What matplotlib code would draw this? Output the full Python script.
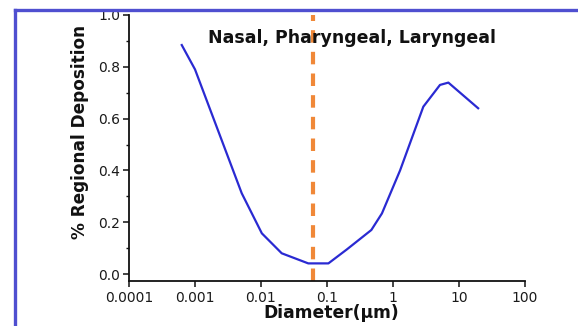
import matplotlib
matplotlib.use("Agg")
import matplotlib.pyplot as plt
from matplotlib.lines import Line2D
from matplotlib.ticker import FixedLocator, MultipleLocator, NullLocator, FixedFormatter

plt.rcParams['font.family'] = ['DejaVu Sans']

# Regional deposition curve (nasal, pharyngeal, laryngeal)
diameter_um = [0.00063, 0.001, 0.0051, 0.0103, 0.0206, 0.052, 0.105,
               0.2, 0.47, 0.68, 1.28, 2.88, 5.15, 6.9, 19.5]
deposition = [0.884, 0.79, 0.312, 0.157, 0.080, 0.041, 0.041,
              0.095, 0.17, 0.234, 0.40, 0.646, 0.73, 0.739, 0.64]

marker_diameter = 0.061
x_ticks = [0.0001, 0.001, 0.01, 0.1, 1, 10, 100]
x_tick_labels = ["0.0001", "0.001", "0.01", "0.1", "1", "10", "100"]
y_ticks = [0.0, 0.2, 0.4, 0.6, 0.8, 1.0]
y_tick_labels = ["0.0", "0.2", "0.4", "0.6", "0.8", "1.0"]

W, H = 578, 326
fig = plt.figure(figsize=(W / 100, H / 100), dpi=100)
fig.patch.set_facecolor("white")

ax = fig.add_axes([129 / W, 1 - 281 / H, (525 - 129) / W, (281 - 15) / H])
ax.set_facecolor("white")

ax.plot(diameter_um, deposition, color="#2a2ad2", lw=1.6, solid_joinstyle="round")
ax.axvline(marker_diameter, color="#f08838", lw=3.0, linestyle=(0, (3, 2.2)))

ax.set_xscale("log")
ax.set_xlim(0.0001, 100)
ax.set_ylim(-0.027, 1.0)

ax.xaxis.set_major_locator(FixedLocator(x_ticks))
ax.xaxis.set_major_formatter(FixedFormatter(x_tick_labels))
ax.xaxis.set_minor_locator(NullLocator())
ax.yaxis.set_major_locator(FixedLocator(y_ticks))
ax.yaxis.set_major_formatter(FixedFormatter(y_tick_labels))
ax.yaxis.set_minor_locator(MultipleLocator(0.1))

for s in ("top", "right"):
    ax.spines[s].set_visible(False)
for s in ("left", "bottom"):
    ax.spines[s].set_linewidth(1.3)
    ax.spines[s].set_color("#111111")

ax.tick_params(axis="both", which="major", direction="out", length=4, width=1.1,
               labelsize=10, colors="#111111", labelcolor="#1a1a1a")
ax.tick_params(axis="x", which="major", pad=3.5)
ax.tick_params(axis="y", which="major", pad=2.5)
ax.tick_params(axis="y", which="minor", direction="out", length=2.5, width=1.0,
               colors="#111111")

fig.text(351.5 / W, 1 - 38 / H, "Nasal, Pharyngeal, Laryngeal", ha="center",
         va="center", fontsize=12.5, fontweight="bold", color="#111111")
fig.text(80 / W, 1 - 132 / H, "% Regional Deposition", ha="center", va="center",
         rotation=90, fontsize=12.2, fontweight="bold", color="#111111")
fig.text(331 / W, 1 - 313 / H, "Diameter(µm)", ha="center", va="center",
         fontsize=12.3, fontweight="bold", color="#111111")

# Blue frame along the left and top edges
frame_color = "#4f4fd0"
fig.add_artist(Line2D([14.5 / W, 14.5 / W], [-0.02, 1 - 10 / H], color=frame_color,
                      lw=2.4, solid_capstyle="projecting", transform=fig.transFigure))
fig.add_artist(Line2D([14.5 / W, 1.02], [1 - 10 / H, 1 - 10 / H], color=frame_color,
                      lw=2.4, solid_capstyle="projecting", transform=fig.transFigure))

fig.savefig("out.png", dpi=100, facecolor="white")
